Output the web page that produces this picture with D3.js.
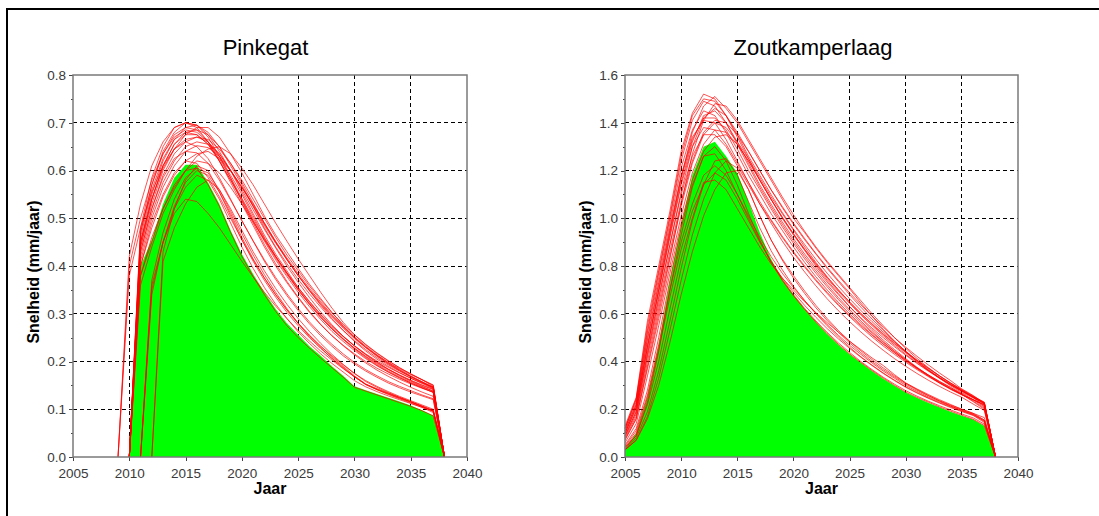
<!DOCTYPE html>
<html><head><meta charset="utf-8">
<script src="https://cdn.jsdelivr.net/npm/d3@7"></script>
<style>
html,body{margin:0;padding:0;background:#fff;}
svg{display:block;}
</style></head><body>
<svg id="chart" width="1099" height="516"></svg>
<script>
// ---------- DATA ----------
const titles = ["Pinkegat", "Zoutkamperlaag"];
const xLabel = "Jaar";
const yLabel = "Snelheid (mm/jaar)";
const xTicks = [2005, 2010, 2015, 2020, 2025, 2030, 2035, 2040];
const pinkYTicks = [0, 0.1, 0.2, 0.3, 0.4, 0.5, 0.6, 0.7, 0.8];
const pinkYMinor = [0.05, 0.15, 0.25, 0.35, 0.45, 0.55, 0.65, 0.75];
const zoutYTicks = [0, 0.2, 0.4, 0.6, 0.8, 1.0, 1.2, 1.4, 1.6];
const zoutYMinor = [0.1, 0.3, 0.5, 0.7, 0.9, 1.1, 1.3, 1.5];

// Pinkegat: start year of each red series, and its yearly values (start .. 2038)
const pinkStarts = [2009, 2009, 2010, 2010, 2010, 2010, 2010, 2010, 2010, 2010, 2010, 2010, 2010, 2010, 2010, 2010,
                    2010, 2010, 2009, 2010, 2010, 2011, 2011, 2011, 2012, 2012, 2011];
const pinkSeries = [
  [0,.42,.53,.61,.66,.69,.70,.69,.66,.62,.575,.53,.485,.44,.40,.365,.333,.303,.277,.254,.234,.216,.200,.186,.174,.163,.153,.144,.136,0],
  [0,.40,.50,.58,.635,.67,.685,.68,.66,.63,.59,.55,.505,.46,.42,.385,.35,.32,.292,.268,.247,.228,.211,.196,.183,.171,.160,.150,.141,0],
  [0,.47,.57,.64,.68,.70,.695,.675,.64,.60,.555,.51,.465,.425,.39,.355,.325,.298,.273,.252,.233,.216,.201,.188,.176,.165,.155,.146,0],
  [0,.44,.53,.60,.645,.675,.69,.69,.67,.635,.595,.55,.505,.465,.43,.395,.362,.332,.303,.275,.25,.23,.213,.198,.185,.173,.162,.148,0],
  [0,.45,.55,.62,.665,.69,.695,.68,.65,.61,.57,.525,.48,.44,.405,.372,.342,.314,.288,.265,.244,.225,.208,.193,.180,.168,.157,.147,0],
  [0,.42,.51,.575,.62,.65,.66,.655,.635,.60,.565,.525,.485,.448,.413,.38,.35,.322,.296,.272,.25,.23,.212,.196,.182,.169,.157,.144,0],
  [0,.46,.56,.625,.665,.68,.675,.655,.62,.58,.54,.495,.452,.413,.378,.345,.315,.288,.263,.242,.223,.206,.191,.178,.166,.155,.145,.136,0],
  [0,.40,.48,.545,.59,.62,.635,.64,.625,.60,.565,.53,.49,.452,.417,.384,.353,.325,.298,.274,.252,.232,.214,.198,.183,.17,.158,.146,0],
  [0,.48,.585,.65,.69,.70,.695,.67,.63,.585,.535,.49,.445,.405,.368,.335,.305,.278,.254,.233,.214,.197,.182,.169,.157,.146,.136,.127,0],
  [0,.43,.52,.59,.635,.66,.67,.665,.645,.615,.58,.54,.50,.46,.423,.39,.358,.329,.302,.278,.256,.236,.218,.202,.187,.174,.162,.151,0],
  [0,.38,.46,.52,.565,.60,.62,.615,.595,.565,.53,.492,.455,.42,.386,.355,.326,.299,.275,.253,.233,.215,.199,.184,.171,.159,.148,.138,0],
  [0,.47,.57,.635,.675,.69,.685,.66,.625,.585,.542,.50,.458,.42,.385,.352,.322,.295,.27,.248,.228,.21,.194,.18,.168,.157,.147,.138,0],
  [0,.36,.44,.51,.56,.60,.63,.645,.65,.635,.605,.57,.53,.49,.452,.415,.38,.345,.312,.282,.256,.235,.217,.201,.187,.174,.162,.150,0],
  [0,.45,.54,.61,.655,.68,.685,.675,.65,.615,.575,.532,.49,.45,.414,.38,.349,.32,.294,.27,.248,.229,.211,.195,.181,.168,.156,.145,0],
  [0,.45,.54,.605,.645,.66,.65,.625,.585,.54,.495,.452,.41,.372,.338,.307,.279,.254,.232,.212,.195,.18,.167,.155,.145,.136,.128,.12,0],
  [0,.43,.52,.585,.625,.64,.637,.615,.58,.538,.495,.453,.413,.376,.342,.311,.283,.258,.236,.216,.198,.183,.17,.158,.148,.139,.13,.122,0],
  [0,.44,.54,.61,.655,.675,.675,.655,.62,.58,.537,.495,.455,.417,.382,.35,.32,.293,.268,.246,.226,.208,.192,.178,.166,.155,.145,.135,0],
  [0,.41,.50,.565,.61,.64,.652,.648,.63,.60,.565,.527,.488,.45,.414,.38,.348,.318,.29,.265,.242,.222,.205,.19,.177,.165,.154,.143,0],
  [0,.38,.48,.555,.61,.645,.665,.67,.66,.635,.60,.56,.518,.477,.438,.40,.366,.334,.304,.277,.253,.232,.214,.198,.184,.172,.161,.151,.142,0],
  [0,.38,.45,.52,.57,.60,.605,.57,.525,.47,.42,.378,.34,.305,.275,.25,.228,.207,.187,.167,.146,.138,.13,.122,.114,.106,.097,.086,0],
  [0,.40,.49,.55,.595,.62,.615,.585,.545,.50,.455,.413,.375,.34,.308,.28,.255,.232,.212,.193,.175,.16,.148,.137,.127,.118,.109,.1,0],
  [0,.35,.45,.52,.565,.59,.58,.54,.49,.44,.395,.355,.32,.29,.262,.238,.216,.196,.178,.16,.147,.137,.128,.12,.112,.104,.096,0],
  [0,.36,.45,.51,.54,.535,.51,.48,.445,.41,.377,.345,.316,.29,.265,.243,.222,.203,.185,.168,.152,.141,.132,.123,.115,.106,.096,0],
  [0,.34,.45,.525,.575,.60,.59,.555,.51,.46,.415,.375,.34,.308,.28,.255,.232,.21,.19,.17,.153,.143,.134,.125,.116,.107,.098,0],
  [0,.41,.48,.53,.565,.58,.56,.52,.475,.43,.39,.353,.32,.29,.263,.238,.215,.194,.175,.158,.146,.135,.125,.116,.106,.097,0],
  [0,.43,.52,.58,.61,.60,.555,.505,.455,.41,.37,.335,.303,.275,.25,.228,.207,.188,.168,.152,.142,.133,.124,.115,.106,.096,0],
  [0,.37,.47,.54,.585,.605,.595,.56,.515,.468,.423,.382,.345,.311,.28,.252,.228,.206,.186,.168,.152,.141,.131,.122,.113,.104,.093,0]
];
const pinkGreenStart = 2010;
const pinkGreen = [0,.40,.455,.53,.585,.612,.612,.575,.53,.475,.425,.383,.345,.31,.28,.256,.232,.212,.19,.17,.148,.14,.132,.124,.116,.108,.098,.087,0];

// Zoutkamperlaag: every series runs yearly from 2005 to 2038
const zoutStart = 2005;
const zoutSeries = [
  [.13,.25,.57,.80,1.03,1.28,1.44,1.52,1.50,1.43,1.34,1.25,1.16,1.08,1.0,.93,.865,.80,.74,.685,.63,.58,.533,.49,.45,.412,.376,.343,.313,.286,.262,.24,.22,0],
  [.10,.21,.46,.70,.94,1.17,1.36,1.47,1.51,1.46,1.40,1.32,1.24,1.16,1.08,1.0,.94,.875,.815,.76,.705,.645,.59,.535,.485,.44,.40,.364,.332,.302,.275,.25,.228,0],
  [.12,.24,.53,.77,1.0,1.24,1.41,1.49,1.47,1.40,1.31,1.22,1.13,1.05,.975,.905,.84,.78,.722,.668,.618,.57,.525,.483,.444,.408,.372,.34,.31,.283,.26,.24,.218,0],
  [.09,.19,.43,.66,.89,1.11,1.30,1.42,1.46,1.43,1.36,1.28,1.20,1.12,1.045,.975,.91,.85,.79,.735,.68,.628,.578,.53,.485,.443,.403,.367,.334,.304,.277,.252,.227,0],
  [.11,.22,.49,.72,.95,1.17,1.33,1.42,1.42,1.37,1.29,1.20,1.12,1.04,.965,.895,.83,.77,.713,.66,.61,.563,.52,.48,.442,.407,.374,.344,.316,.29,.267,.24,.217,0],
  [.08,.17,.40,.62,.84,1.05,1.23,1.35,1.40,1.38,1.32,1.25,1.17,1.09,1.02,.95,.88,.815,.755,.70,.648,.60,.555,.513,.474,.437,.40,.364,.33,.298,.27,.247,.226,0],
  [.12,.23,.52,.75,.98,1.21,1.37,1.45,1.43,1.36,1.27,1.18,1.10,1.02,.95,.88,.815,.755,.70,.648,.60,.555,.513,.474,.437,.402,.37,.34,.312,.286,.262,.24,.21,0],
  [.07,.16,.38,.60,.83,1.06,1.27,1.41,1.48,1.47,1.41,1.33,1.25,1.17,1.09,1.015,.945,.88,.82,.765,.71,.655,.60,.55,.50,.455,.413,.375,.34,.308,.28,.255,.23,0],
  [.10,.20,.46,.69,.92,1.14,1.30,1.38,1.37,1.31,1.23,1.15,1.07,.995,.925,.86,.80,.743,.69,.64,.593,.55,.51,.472,.437,.404,.373,.344,.317,.292,.262,.235,.205,0],
  [.06,.14,.34,.55,.77,.98,1.16,1.28,1.34,1.35,1.31,1.24,1.16,1.08,1.005,.935,.87,.81,.753,.70,.65,.603,.558,.516,.477,.44,.405,.372,.34,.31,.28,.25,.222,0],
  [.11,.22,.50,.73,.96,1.18,1.34,1.41,1.40,1.33,1.24,1.15,1.06,.98,.905,.837,.775,.717,.663,.613,.567,.524,.484,.447,.412,.38,.35,.322,.296,.272,.25,.222,.195,0],
  [.09,.19,.44,.67,.89,1.10,1.26,1.35,1.35,1.30,1.22,1.14,1.06,.99,.92,.855,.795,.738,.685,.635,.588,.544,.503,.465,.43,.397,.366,.337,.31,.285,.262,.232,.2,0],
  [.12,.245,.55,.78,1.01,1.26,1.43,1.50,1.49,1.43,1.35,1.26,1.18,1.10,1.025,.955,.89,.828,.77,.715,.663,.614,.567,.523,.482,.443,.406,.372,.34,.31,.283,.255,.225,0],
  [.085,.18,.42,.64,.86,1.07,1.24,1.36,1.41,1.40,1.35,1.28,1.20,1.12,1.05,.98,.915,.853,.795,.74,.688,.638,.59,.544,.50,.46,.422,.386,.352,.32,.285,.258,.225,0],
  [.10,.21,.47,.70,.93,1.15,1.32,1.43,1.45,1.40,1.32,1.23,1.14,1.06,.985,.915,.85,.79,.733,.68,.63,.583,.54,.50,.462,.426,.392,.36,.33,.302,.276,.252,.222,0],
  [.075,.16,.37,.58,.80,1.01,1.19,1.31,1.37,1.36,1.31,1.24,1.16,1.08,1.005,.935,.868,.806,.748,.694,.643,.595,.55,.508,.468,.43,.395,.362,.332,.304,.278,.25,.212,0],
  [.04,.09,.22,.40,.62,.83,1.00,1.15,1.16,1.12,1.04,.96,.88,.81,.75,.70,.65,.605,.563,.523,.485,.45,.415,.383,.345,.31,.285,.262,.24,.22,.2,.183,.165,0],
  [.03,.07,.16,.30,.48,.68,.86,1.01,1.12,1.19,1.20,1.12,1.01,.91,.83,.76,.695,.635,.58,.53,.485,.445,.408,.373,.34,.31,.283,.258,.235,.214,.195,.178,.155,0],
  [.035,.09,.23,.44,.70,.93,1.13,1.26,1.30,1.24,1.14,1.02,.91,.815,.74,.675,.618,.565,.517,.472,.432,.396,.362,.33,.30,.272,.25,.23,.21,.192,.175,.158,.132,0],
  [.03,.08,.19,.36,.57,.79,.99,1.14,1.24,1.25,1.18,1.07,.96,.865,.785,.715,.655,.60,.55,.503,.46,.42,.385,.352,.322,.294,.27,.248,.228,.21,.193,.176,.15,0],
  [.04,.10,.25,.45,.67,.87,1.03,1.14,1.19,1.16,1.08,.99,.90,.82,.75,.69,.635,.585,.538,.495,.455,.418,.383,.35,.32,.292,.268,.246,.226,.207,.19,.174,.145,0],
  [.05,.12,.28,.50,.74,.96,1.14,1.26,1.27,1.20,1.10,1.0,.905,.82,.745,.68,.622,.57,.522,.478,.438,.40,.366,.334,.305,.278,.255,.234,.215,.197,.18,.164,.138,0],
  [.03,.07,.17,.33,.53,.74,.93,1.08,1.19,1.24,1.21,1.12,1.01,.91,.825,.75,.685,.625,.572,.523,.478,.437,.40,.366,.335,.306,.28,.257,.236,.217,.2,.183,.155,0],
  [.045,.11,.26,.47,.70,.90,1.06,1.18,1.22,1.18,1.10,1.01,.92,.84,.77,.71,.655,.603,.555,.51,.468,.43,.394,.36,.33,.30,.275,.252,.232,.213,.196,.18,.15,0]
];
const zoutGreen = [.035,.10,.25,.47,.74,.97,1.18,1.30,1.32,1.26,1.19,1.07,.94,.83,.745,.68,.62,.565,.515,.47,.43,.395,.36,.328,.298,.27,.248,.227,.208,.19,.173,.157,.13,0];

// ---------- DRAW ----------
const svg = d3.select("#chart");
const FONT = "'Liberation Sans', Arial, Helvetica, sans-serif";

// outer frame (clipped by the viewport on right and bottom)
svg.append("rect").attr("x", 7).attr("y", 9).attr("width", 1300).attr("height", 800)
  .attr("fill", "none").attr("stroke", "#000").attr("stroke-width", 2);

const toPoints = (start, vals) => vals.map((v, i) => [start + i, v]);

const panels = [
  { title: titles[0], titleX: 265.5, x0: 73, x1: 467, y0: 75, y1: 457, yMax: 0.8,
    yTicks: pinkYTicks, yMinor: pinkYMinor, yLabelX: 33.5,
    series: pinkSeries.map((s, i) => toPoints(pinkStarts[i], s)),
    green: toPoints(pinkGreenStart, pinkGreen) },
  { title: titles[1], titleX: 813, x0: 625, x1: 1018, y0: 75, y1: 457, yMax: 1.6,
    yTicks: zoutYTicks, yMinor: zoutYMinor, yLabelX: 585.5,
    series: zoutSeries.map(s => toPoints(zoutStart, s)),
    green: toPoints(zoutStart, zoutGreen) }
];

panels.forEach(p => {
  const x = d3.scaleLinear().domain([2005, 2040]).range([p.x0, p.x1]);
  const y = d3.scaleLinear().domain([0, p.yMax]).range([p.y1, p.y0]);
  const g = svg.append("g");

  // dashed grid
  const grid = g.append("g").attr("stroke", "#000").attr("stroke-width", 1)
    .attr("stroke-dasharray", "4,3").attr("shape-rendering", "crispEdges");
  grid.selectAll("line.v").data(xTicks.slice(1, -1)).join("line").attr("class", "v")
    .attr("x1", d => x(d)).attr("x2", d => x(d)).attr("y1", p.y0).attr("y2", p.y1);
  grid.selectAll("line.h").data(p.yTicks.slice(1, -1)).join("line").attr("class", "h")
    .attr("x1", p.x0).attr("x2", p.x1).attr("y1", d => y(d)).attr("y2", d => y(d));

  // green area
  const area = d3.area().x(d => x(d[0])).y0(y(0)).y1(d => y(d[1]));
  g.append("path").datum(p.green).attr("d", area).attr("fill", "#00ff00");

  // red lines
  const line = d3.line().x(d => x(d[0])).y(d => y(d[1]));
  g.append("g").selectAll("path").data(p.series).join("path")
    .attr("d", line).attr("fill", "none").attr("stroke", "#ff0000")
    .attr("stroke-width", 1).attr("stroke-opacity", 0.68);

  // axes
  const xa = g.append("g").attr("transform", `translate(0,${p.y1})`)
    .call(d3.axisBottom(x).tickValues(xTicks).tickSize(4).tickSizeOuter(0).tickPadding(7).tickFormat(d3.format("d")));
  const ya = g.append("g").attr("transform", `translate(${p.x0},0)`)
    .call(d3.axisLeft(y).tickValues(p.yTicks).tickSize(4).tickSizeOuter(0).tickPadding(3).tickFormat(d3.format(".1f")));
  const ym = g.append("g").attr("transform", `translate(${p.x0},0)`)
    .call(d3.axisLeft(y).tickValues(p.yMinor).tickSize(2).tickSizeOuter(0).tickFormat(""));
  [xa, ya, ym].forEach(a => {
    a.select(".domain").remove();
    a.selectAll(".tick line").attr("stroke", "#444").attr("shape-rendering", "crispEdges");
    a.selectAll("text").attr("fill", "#3a3a3a").style("font-family", FONT).style("font-size", "13.5px");
  });

  // plot frame
  g.append("rect").attr("x", p.x0).attr("y", p.y0).attr("width", p.x1 - p.x0).attr("height", p.y1 - p.y0)
    .attr("fill", "none").attr("stroke", "#7a7a7a").attr("stroke-width", 1.5);

  // title
  g.append("text").attr("x", p.titleX).attr("y", 55).attr("text-anchor", "middle")
    .style("font-family", FONT).style("font-size", "22px").attr("fill", "#000").text(p.title);
  // x label
  g.append("text").attr("x", (p.x0 + p.x1) / 2).attr("y", 494).attr("text-anchor", "middle")
    .style("font-family", FONT).style("font-size", "16px").style("font-weight", "bold").attr("fill", "#000").text(xLabel);
  // y label
  g.append("text").attr("transform", `translate(${p.yLabelX},272) rotate(-90)`).attr("text-anchor", "middle")
    .attr("dominant-baseline", "central")
    .style("font-family", FONT).style("font-size", "16px").style("font-weight", "bold").attr("fill", "#000").text(yLabel);
});
</script>
</body></html>
